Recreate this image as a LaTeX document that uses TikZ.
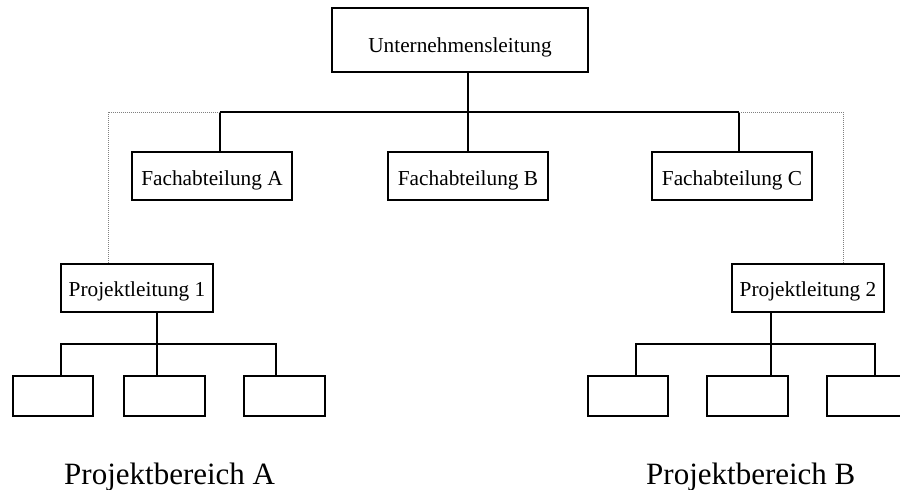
\documentclass[tikz,border=0pt]{standalone}
\usepackage{fontspec}
\setmainfont{Liberation Serif}
\begin{document}
\begin{tikzpicture}[x=1pt,y=-1pt,
  box/.style={draw, line width=1.1pt, inner sep=0pt, text height=18pt, text depth=0pt,
    minimum height=48pt, font=\fontsize{21.3}{24}\selectfont},
  empty/.style={draw, line width=1.1pt, inner sep=0pt, minimum height=40pt},
  link/.style={line width=1.1pt},
  dot/.style={line width=0.8pt, gray, dash pattern=on 1pt off 1pt},
  area/.style={anchor=base west, inner sep=0pt, font=\fontsize{31}{36}\selectfont}]
\useasboundingbox (0,0) rectangle (900,490);
\clip (0,0) rectangle (900,490);

% nodes
\node[box, minimum width=256pt, minimum height=64pt, text height=24pt] (U) at (460,40) {Unternehmensleitung};
\node[box, minimum width=160pt] (FA) at (212,176) {Fachabteilung A};
\node[box, minimum width=160pt] (FB) at (468,176) {Fachabteilung B};
\node[box, minimum width=160pt] (FC) at (732,176) {Fachabteilung C};
\node[box, minimum width=152pt, text height=16pt] (P1) at (137,288) {Projektleitung 1};
\node[box, minimum width=152pt, text height=16pt] (P2) at (808,288) {Projektleitung 2};

\node[empty, minimum width=80pt] (a1) at (53,396) {};
\node[empty, minimum width=81pt] (a2) at (164.5,396) {};
\node[empty, minimum width=81pt] (a3) at (284.5,396) {};
\node[empty, minimum width=80pt] (b1) at (628,396) {};
\node[empty, minimum width=81pt] (b2) at (747.5,396) {};
\node[empty, minimum width=80pt] (b3) at (867,396) {};

\node[area] (LA) at (64,484) {Projektbereich A};
\node[area] (LB) at (646,484) {Projektbereich B};

% junctions
\coordinate (jU) at (468,112);
\coordinate (hA) at (220,112);
\coordinate (hC) at (739,112);
\coordinate (dA) at (108,112);
\coordinate (dB) at (843,112);
\coordinate (kA) at (157,344);
\coordinate (lA) at (61,344);
\coordinate (rA) at (276,344);
\coordinate (kB) at (771,344);
\coordinate (lB) at (636,344);
\coordinate (rB) at (875,344);

% connectors
\draw[link] (U.south -| jU) -- (jU);
\draw[link] (hA) -- (hC);
\draw[link] (hA) -- (FA.north -| hA);
\draw[link] (jU) -- (FB.north);
\draw[link] (hC) -- (FC.north -| hC);
\draw[dot] (hA) -- (dA) -- (P1.north -| dA);
\draw[dot] (hC) -- (dB) -- (P2.north -| dB);

\draw[link] (P1.south -| kA) -- (kA) -- (a2.north -| kA);
\draw[link] (a1.north -| lA) -- (lA) -- (rA) -- (a3.north -| rA);
\draw[link] (P2.south -| kB) -- (kB) -- (b2.north -| kB);
\draw[link] (b1.north -| lB) -- (lB) -- (rB) -- (b3.north -| rB);
\end{tikzpicture}
\end{document}
